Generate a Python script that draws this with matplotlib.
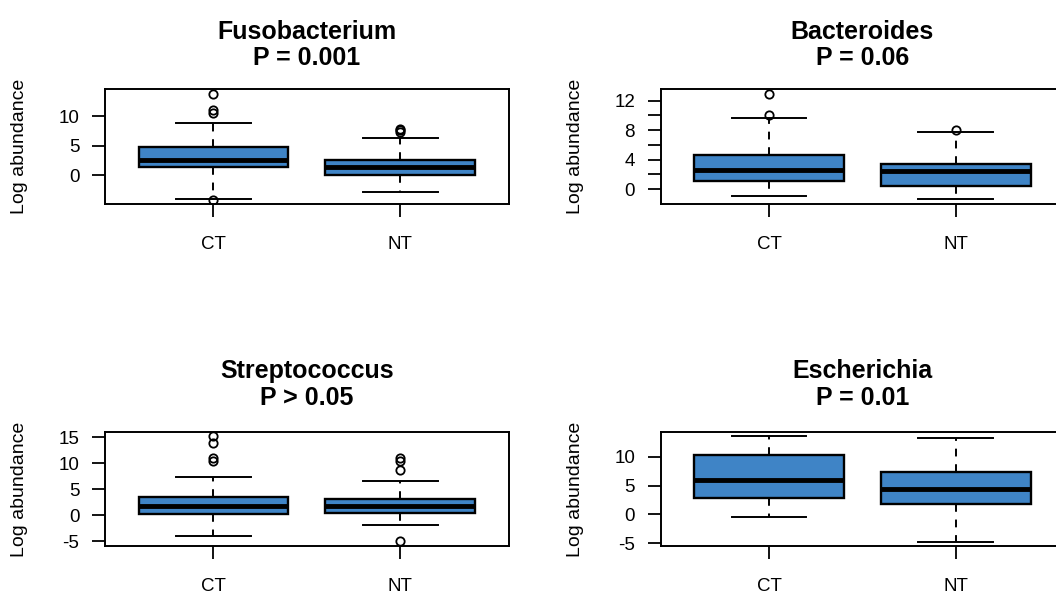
import matplotlib
matplotlib.use("Agg")
import matplotlib.pyplot as plt

plt.rcParams['font.family'] = ['Liberation Sans', 'DejaVu Sans']

groups = ["CT", "NT"]

titles = ["Fusobacterium\nP = 0.001", "Bacteroides\nP = 0.06",
          "Streptococcus\nP > 0.05", "Escherichia\nP = 0.01"]

# per panel: [CT, NT] stats: (whislo, q1, med, q3, whishi)
fuso_stats = [(-4.1, 1.3, 2.5, 4.7, 8.9), (-2.9, 0.0, 1.4, 2.5, 6.3)]
fuso_fliers = [[13.7, 11.0, 10.5, -4.2], [7.9, 7.6, 7.3]]

bact_stats = [(-1.0, 1.1, 2.6, 4.6, 9.7), (-1.4, 0.4, 2.45, 3.35, 7.8)]
bact_fliers = [[12.9, 10.0], [8.0]]

strep_stats = [(-3.9, 0.2, 1.8, 3.46, 7.4), (-1.8, 0.5, 1.8, 3.1, 6.7)]
strep_fliers = [[15.3, 14.0, 11.1, 10.4], [11.1, 10.5, 8.7, -4.9]]

esch_stats = [(-0.5, 2.8, 6.0, 10.3, 13.6), (-4.8, 1.9, 4.4, 7.3, 13.3)]
esch_fliers = [[], []]

ylims = [(-4.9, 14.6), (-2.04, 13.6), (-5.9, 16.0), (-5.5, 14.3)]
yticks = [[0, 5, 10], [0, 2, 4, 6, 8, 10, 12], [-5, 0, 5, 10, 15], [-5, 0, 5, 10]]
ytick_labels = [["0", "5", "10"], ["0", "", "4", "", "8", "", "12"],
                ["-5", "0", "5", "10", "15"], ["-5", "0", "5", "10"]]

all_stats = [fuso_stats, bact_stats, strep_stats, esch_stats]
all_fliers = [fuso_fliers, bact_fliers, strep_fliers, esch_fliers]

W, H = 1056, 594
fig = plt.figure(figsize=(W / 100, H / 100), dpi=100)

ax_w = 403.5 / W
positions = [
    (105 / W, 1 - 204 / H, ax_w, 115 / H),
    (660.7 / W, 1 - 204 / H, ax_w, 115 / H),
    (105 / W, 1 - 546 / H, ax_w, 113.7 / H),
    (660.7 / W, 1 - 546 / H, ax_w, 113.7 / H),
]
title_pads = [17, 17, 19.5, 19.5]

box_color = "#3F84C6"

for i in range(4):
    ax = fig.add_axes(positions[i])
    bxp_stats = []
    for g, (st, fl) in enumerate(zip(all_stats[i], all_fliers[i])):
        wl, q1, med, q3, wh = st
        bxp_stats.append(dict(label=groups[g], whislo=wl, q1=q1, med=med,
                              q3=q3, whishi=wh, fliers=fl))
    ax.bxp(bxp_stats, positions=[1, 2], widths=0.8, capwidths=0.4,
           patch_artist=True, manage_ticks=False,
           boxprops=dict(facecolor=box_color, edgecolor="black", linewidth=1.7),
           medianprops=dict(color="black", linewidth=3.5),
           whiskerprops=dict(color="black", linewidth=1.4, linestyle=(0, (4, 4))),
           capprops=dict(color="black", linewidth=1.4),
           flierprops=dict(marker="o", markerfacecolor="none",
                           markeredgecolor="black", markersize=6,
                           markeredgewidth=1.3))
    ax.set_xlim(0.42, 2.58)
    ax.set_ylim(*ylims[i])
    ax.set_xticks([1, 2])
    ax.set_xticklabels(groups, fontsize=13.5)
    ax.set_yticks(yticks[i])
    ax.set_yticklabels(ytick_labels[i], fontsize=13.5)
    ax.tick_params(axis="y", length=9.5, width=1.3, pad=9)
    ax.tick_params(axis="x", length=9, width=1.3, pad=14)
    for s in ax.spines.values():
        s.set_linewidth(1.4)
    ax.text(-0.212, 0.5, "Log abundance", transform=ax.transAxes,
            rotation=90, ha="center", va="center", fontsize=14)
    ax.set_title(titles[i], fontsize=18, fontweight="bold", pad=title_pads[i],
                 linespacing=1.15)

fig.savefig("out.png", dpi=100)
